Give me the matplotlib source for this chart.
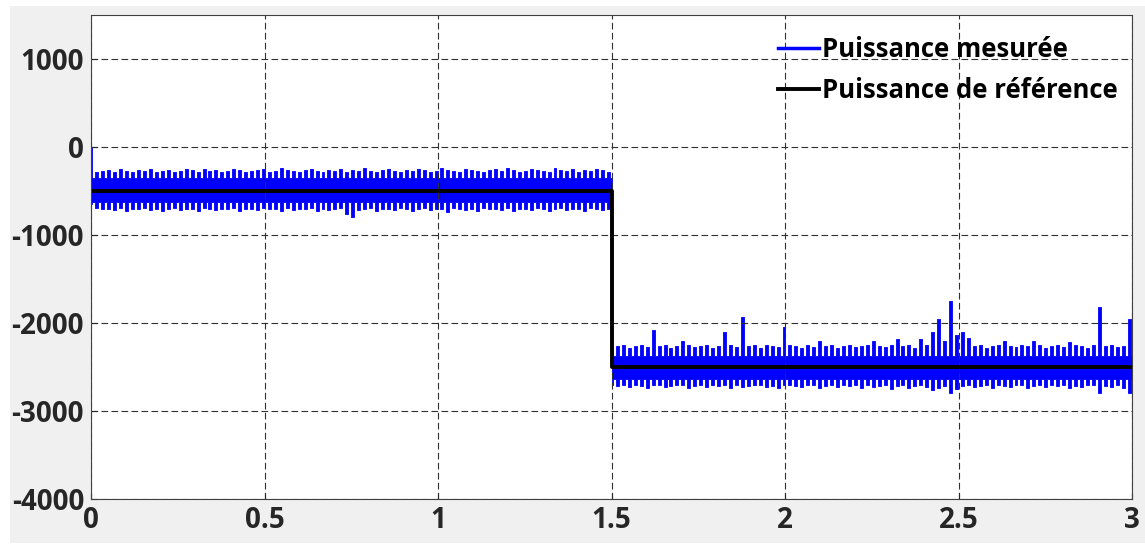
import numpy as np
import matplotlib.pyplot as plt
from matplotlib.patches import Rectangle

# Puissance mesurée : sommets des dents hautes / basses (W)
haut_1 = [0, -280, -270, -260, -280, -250, -270, -280, -260, -270, -250, -280,
          -270, -260, -280, -270, -250, -260, -280, -250, -270, -260, -280, -270,
          -250, -260, -280, -270, -260, -250, -280, -270, -240, -260, -270, -280,
          -260, -250, -270, -280, -260, -270, -250, -280, -260, -270, -240, -270,
          -280, -260, -250, -270, -280, -260, -270, -250, -260, -280, -270, -240,
          -260, -270, -280, -250, -260, -270, -280, -260, -250, -270, -240, -260,
          -280, -270, -250, -260, -270, -280, -240, -260, -270, -250, -280, -260,
          -270, -250, -260, -280]
bas_1 = [-650, -690, -710, -700, -720, -690, -730, -700, -710, -690, -720, -700,
         -730, -710, -690, -720, -700, -710, -730, -690, -700, -720, -710, -700,
         -690, -730, -710, -700, -720, -690, -710, -700, -730, -690, -720, -710,
         -700, -690, -730, -710, -720, -700, -690, -760, -800, -720, -700, -690,
         -730, -710, -700, -720, -690, -710, -730, -700, -690, -720, -710, -700,
         -740, -690, -710, -720, -700, -730, -690, -710, -700, -720, -690, -730,
         -710, -700, -720, -690, -710, -730, -700, -690, -720, -710, -700, -730,
         -690, -710, -720, -700]
haut_2 = [-2300, -2260, -2250, -2280, -2260, -2250, -2270, -2080, -2260, -2250,
          -2280, -2260, -2200, -2250, -2270, -2260, -2250, -2280, -2260, -2100,
          -2250, -2270, -1930, -2260, -2250, -2280, -2250, -2260, -2270, -2040,
          -2250, -2260, -2280, -2250, -2270, -2200, -2260, -2250, -2280, -2260,
          -2250, -2270, -2260, -2250, -2200, -2260, -2270, -2250, -2180, -2260,
          -2250, -2280, -2180, -2250, -2100, -1950, -2200, -1750, -2140, -2100,
          -2170, -2260, -2250, -2280, -2260, -2250, -2200, -2260, -2270, -2250,
          -2260, -2210, -2250, -2280, -2260, -2250, -2270, -2220, -2250, -2260,
          -2280, -2250, -1820, -2260, -2250, -2270, -2260, -1960]
bas_2 = [-2700, -2720, -2710, -2730, -2700, -2720, -2740, -2710, -2700, -2730,
         -2720, -2710, -2700, -2740, -2720, -2710, -2730, -2700, -2720, -2710,
         -2740, -2700, -2730, -2720, -2710, -2700, -2730, -2720, -2740, -2710,
         -2700, -2720, -2730, -2710, -2700, -2740, -2720, -2710, -2730, -2700,
         -2720, -2710, -2740, -2700, -2730, -2720, -2710, -2750, -2720, -2700,
         -2740, -2720, -2710, -2730, -2760, -2740, -2720, -2800, -2750, -2720,
         -2700, -2730, -2720, -2710, -2740, -2700, -2720, -2730, -2710, -2700,
         -2740, -2720, -2710, -2730, -2700, -2720, -2710, -2740, -2720, -2730,
         -2710, -2700, -2790, -2720, -2730, -2710, -2740, -2790]

# niveaux du corps plein de la bande de bruit, entre les dents (W)
socle_haut_1, socle_bas_1 = -350, -620
socle_haut_2, socle_bas_2 = -2370, -2640

# Puissance de référence (W)
t_ref = [0, 1.5, 1.5, 3.0]
p_ref = [-500, -500, -2500, -2500]

t_saut = 1.5
t_fin = 3.0


def enveloppe(dents, socle):
    return [v for d in dents for v in (d, socle)]


def bande(haut, bas, s_haut, s_bas, t0, t1):
    hi = enveloppe(haut, s_haut)
    lo = enveloppe(bas, s_bas)
    n = min(len(hi), len(lo))
    t = np.linspace(t0, t1, n)
    return t, np.array(lo[:n]), np.array(hi[:n])


plt.rcParams['font.family'] = ['Open Sans', 'DejaVu Sans']
plt.rcParams['axes.unicode_minus'] = False

fig = plt.figure(figsize=(11.45, 5.45), dpi=100, facecolor='white')
fig.patches.append(Rectangle((10 / 1145, 2 / 545), 1 - 10 / 1145, 1 - 8 / 545,
                             transform=fig.transFigure, facecolor='#f0f0f0',
                             edgecolor='none', zorder=-10))
ax = fig.add_axes([91 / 1145, 46 / 545, (1132 - 91) / 1145, (499 - 15) / 545])

bleu = '#0000ff'
t1, lo1, hi1 = bande(haut_1, bas_1, socle_haut_1, socle_bas_1, 0, t_saut)
t2, lo2, hi2 = bande(haut_2, bas_2, socle_haut_2, socle_bas_2, t_saut, t_fin)
for t, lo, hi in [(t1, lo1, hi1), (t2, lo2, hi2)]:
    ax.fill_between(t, lo, hi, step='mid', color=bleu, lw=0.6, edgecolor=bleu)
ax.plot([], [], color=bleu, lw=2.5, label='Puissance mesurée')
ax.plot(t_ref, p_ref, color='black', lw=2.8, label='Puissance de référence')

ax.set_xlim(0, 3)
ax.set_ylim(-4000, 1500)
ax.set_xticks([0, 0.5, 1, 1.5, 2, 2.5, 3])
ax.set_xticklabels(['0', '0.5', '1', '1.5', '2', '2.5', '3'])
ax.set_yticks([-4000, -3000, -2000, -1000, 0, 1000])

ax.grid(True, color='#303030', lw=0.8, linestyle=(0, (6, 3)))
ax.tick_params(direction='in', length=4, width=0.8, colors='#262626',
               labelsize=20, pad=5)
for lab in ax.get_xticklabels() + ax.get_yticklabels():
    lab.set_fontweight('bold')
for s in ax.spines.values():
    s.set_color('#404040')
    s.set_linewidth(0.8)

leg = ax.legend(loc='upper right', bbox_to_anchor=(1.006, 1.0), frameon=False,
                handlelength=1.6, handletextpad=0.1, labelspacing=0.56,
                borderaxespad=0.4, prop={'weight': 'bold', 'size': 18.5})

plt.savefig('out.png', dpi=100, facecolor=fig.get_facecolor())
